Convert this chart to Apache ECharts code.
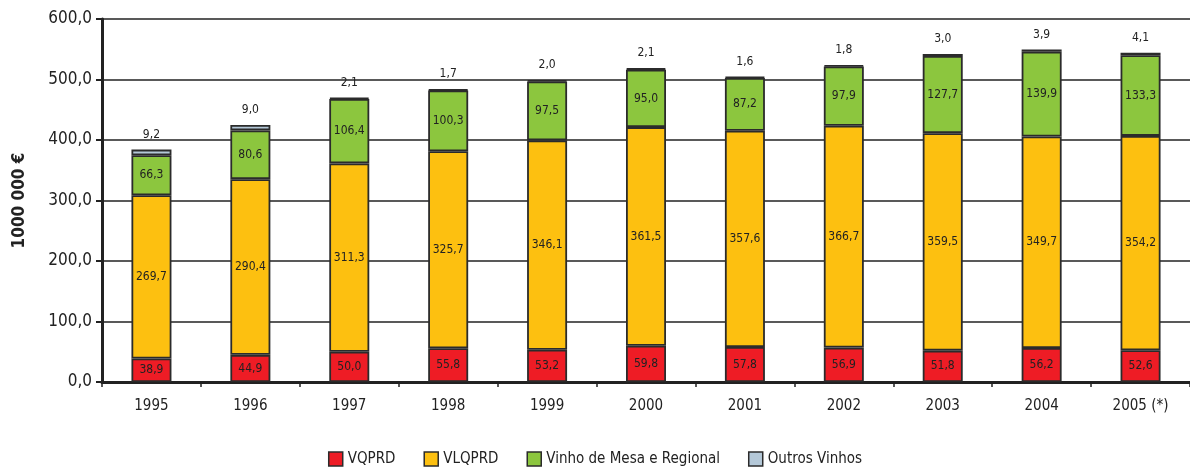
<!DOCTYPE html>
<html><head><meta charset="utf-8">
<script src="https://cdn.jsdelivr.net/npm/echarts@6/dist/echarts.min.js"></script>
<style>html,body{margin:0;padding:0;background:#fff}#c{width:1190px;height:468px}</style>
</head><body><div id="c"></div>
<script>
const categories = ['1995','1996','1997','1998','1999','2000','2001','2002','2003','2004','2005 (*)'];
const vqprd = [38.9,44.9,50.0,55.8,53.2,59.8,57.8,56.9,51.8,56.2,52.6];
const vlqprd = [269.7,290.4,311.3,325.7,346.1,361.5,357.6,366.7,359.5,349.7,354.2];
const vinhoMesa = [66.3,80.6,106.4,100.3,97.5,95.0,87.2,97.9,127.7,139.9,133.3];
const outros = [9.2,9.0,2.1,1.7,2.0,2.1,1.6,1.8,3.0,3.9,4.1];
const seriesNames = ['VQPRD','VLQPRD','Vinho de Mesa e Regional','Outros Vinhos'];
const colors = ['#EE1C25','#FDC010','#8CC63E','#B4C8D8'];
const FONT = '"DejaVu Sans Condensed", "Liberation Sans Narrow", "Liberation Sans", sans-serif';
const fmt = v => v.toFixed(1).replace('.', ',');

const chart = echarts.init(document.getElementById('c'), null, {renderer:'canvas'});
const datasets = [vqprd, vlqprd, vinhoMesa, outros];
const series = datasets.map((d, i) => ({
  name: seriesNames[i],
  type: 'bar',
  stack: 'total',
  barWidth: 40,
  data: d,
  itemStyle: {color: colors[i], borderColor: '#2b2b2b', borderWidth: 1.8},
  label: {
    show: true,
    position: i === 3 ? 'top' : 'inside',
    distance: i === 3 ? 9 : 5,
    formatter: p => fmt(p.value),
    color: '#222',
    fontFamily: FONT,
    fontSize: 12
  }
}));

chart.setOption({
  animation: false,
  color: colors,
  grid: {left: 102, right: 0, top: 19, bottom: 86},
  legend: {
    top: 448,
    left: 'center',
    itemWidth: 14,
    itemHeight: 14,
    itemGap: 28,
    padding: 2,
    icon: 'rect',
    textStyle: {fontFamily: FONT, fontSize: 15, color: '#222', lineHeight: 18},
    itemStyle: {borderColor: '#2b2b2b', borderWidth: 1.5}
  },
  xAxis: {
    type: 'category',
    data: categories,
    axisLine: {lineStyle: {color: '#222', width: 3}},
    axisTick: {show: true, alignWithLabel: false, length: 5, lineStyle: {color: '#222', width: 1.5}},
    axisLabel: {fontFamily: FONT, fontSize: 15, color: '#222', margin: 17}
  },
  yAxis: {
    type: 'value',
    min: 0, max: 600, interval: 100,
    name: '1000 000 €',
    nameLocation: 'middle',
    nameGap: 74,
    nameTextStyle: {fontFamily: FONT, fontSize: 17, fontWeight: 'bold', color: '#222'},
    axisLine: {show: true, lineStyle: {color: '#222', width: 3}},
    axisTick: {show: true, length: 6, lineStyle: {color: '#222', width: 2}},
    axisLabel: {fontFamily: FONT, fontSize: 17, color: '#222', margin: 10, formatter: v => fmt(v)},
    splitLine: {lineStyle: {color: '#222', width: 1.5}}
  },
  series
});
</script></body></html>
